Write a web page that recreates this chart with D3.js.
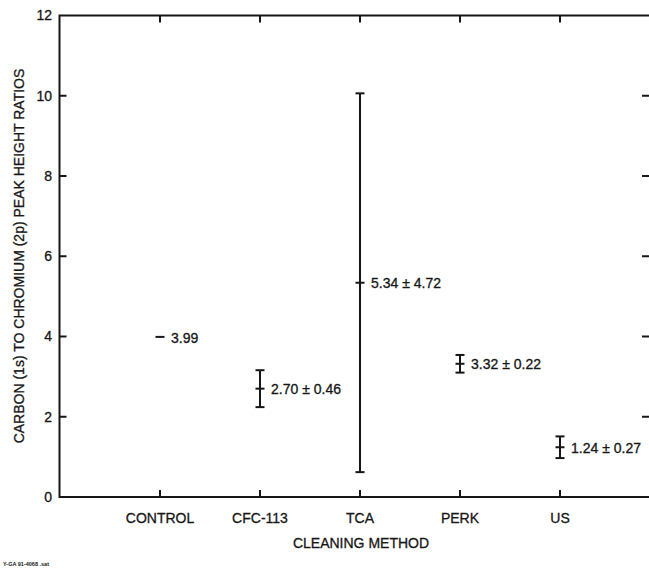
<!DOCTYPE html>
<html>
<head>
<meta charset="utf-8">
<script src="https://cdn.jsdelivr.net/npm/d3@7"></script>
<style>
  html, body { margin: 0; padding: 0; background: #fff; }
  svg { display: block; font-family: "Liberation Sans", Arial, sans-serif; }
  svg text { stroke: #161616; stroke-width: 0.3px; }
</style>
</head>
<body>
<svg id="chart" width="649" height="570"></svg>
<script>
// Cleaning methods and measured C(1s)/Cr(2p) peak height ratios
const methods = ["CONTROL", "CFC-113", "TCA", "PERK", "US"];
const means = [3.99, 2.70, 5.34, 3.32, 1.24];
const errors = [null, 0.46, 4.72, 0.22, 0.27];
const valueLabels = ["3.99", "2.70 \u00b1 0.46", "5.34 \u00b1 4.72", "3.32 \u00b1 0.22", "1.24 \u00b1 0.27"];
const yTicks = [0, 2, 4, 6, 8, 10, 12];

const ink = "#161616";
const fontSize = 14;
const svg = d3.select("#chart");

const plotLeft = 59.5, plotRight = 651, plotTop = 15.5, plotBottom = 497;
const x = d3.scalePoint().domain(methods).range([160, 560]);
const y = d3.scaleLinear().domain([0, 12]).range([plotBottom, plotTop]);

// Frame with inward ticks on all four sides
const frame = svg.append("g").attr("stroke", ink).attr("stroke-width", 2).attr("fill", "none");
frame.append("rect").attr("x", plotLeft).attr("y", plotTop)
  .attr("width", plotRight - plotLeft).attr("height", plotBottom - plotTop);

const tickLen = 7;
const innerY = yTicks.filter(d => d > 0 && d < 12);
frame.selectAll(".yl").data(innerY).join("line")
  .attr("class", "yl")
  .attr("x1", plotLeft).attr("x2", plotLeft + tickLen).attr("y1", d => y(d)).attr("y2", d => y(d));
frame.selectAll(".yr").data(innerY).join("line")
  .attr("class", "yr")
  .attr("x1", plotRight - tickLen - 2).attr("x2", plotRight).attr("y1", d => y(d)).attr("y2", d => y(d));
frame.selectAll(".xb").data(methods).join("line")
  .attr("class", "xb")
  .attr("x1", d => x(d)).attr("x2", d => x(d)).attr("y1", plotBottom).attr("y2", plotBottom - tickLen);
frame.selectAll(".xt").data(methods).join("line")
  .attr("class", "xt")
  .attr("x1", d => x(d)).attr("x2", d => x(d)).attr("y1", plotTop).attr("y2", plotTop + tickLen);

// Y tick labels
svg.append("g").selectAll("text").data(yTicks).join("text")
  .attr("x", 52).attr("y", d => y(d)).attr("dy", "0.35em")
  .attr("text-anchor", "end").attr("font-size", fontSize).attr("fill", ink)
  .text(d => d);

// X category labels
svg.append("g").selectAll("text").data(methods).join("text")
  .attr("x", d => x(d)).attr("y", 523)
  .attr("text-anchor", "middle").attr("font-size", fontSize).attr("fill", ink)
  .text(d => d);

// Axis titles
svg.append("text").attr("x", 361).attr("y", 548)
  .attr("text-anchor", "middle").attr("font-size", fontSize).attr("fill", ink)
  .text("CLEANING METHOD");
svg.append("text")
  .attr("transform", "translate(24,256) rotate(-90)")
  .attr("text-anchor", "middle").attr("font-size", fontSize).attr("fill", ink)
  .text("CARBON (1s) TO CHROMIUM (2p) PEAK HEIGHT RATIOS");

// Drawing number
svg.append("text").attr("x", 3).attr("y", 566)
  .attr("font-size", 5.5).attr("font-weight", "bold").attr("fill", ink)
  .style("stroke-width", "0px")
  .text("Y-GA 91-4068 .sat");

// Means with error bars
const data = methods.map((m, i) => ({ m, mean: means[i], err: errors[i], label: valueLabels[i] }));
const marks = svg.append("g").attr("stroke", ink).attr("fill", "none");
const capHalf = 4.5, meanHalf = 4.5;

data.forEach(d => {
  const cx = x(d.m);
  if (d.err != null) {
    marks.append("line").attr("stroke-width", 2)
      .attr("x1", cx).attr("x2", cx).attr("y1", y(d.mean - d.err)).attr("y2", y(d.mean + d.err));
    [d.mean - d.err, d.mean + d.err].forEach(v => {
      marks.append("line").attr("stroke-width", 2)
        .attr("x1", cx - capHalf).attr("x2", cx + capHalf).attr("y1", y(v)).attr("y2", y(v));
    });
  }
  marks.append("line").attr("stroke-width", 2)
    .attr("x1", cx - meanHalf).attr("x2", cx + meanHalf).attr("y1", y(d.mean)).attr("y2", y(d.mean));
  svg.append("text").attr("x", cx + 11).attr("y", y(d.mean)).attr("dy", "0.4em")
    .attr("font-size", fontSize).attr("fill", ink).text(d.label);
});
</script>
</body>
</html>
